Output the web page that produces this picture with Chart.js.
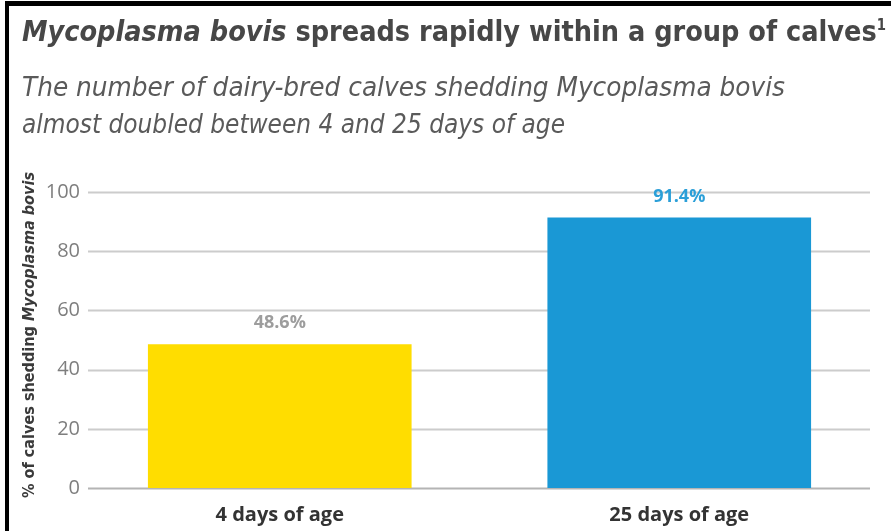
<!DOCTYPE html>
<html>
<head>
    <meta charset="utf-8" />
    <title>Mycoplasma bovis spreads rapidly within a group of calves</title>
    <script src="https://cdn.jsdelivr.net/npm/chart.js"></script>
    <style>
        body { margin: 0; background: #fff; width: 891px; height: 531px; overflow: hidden; position: relative; }
        #frame { position: absolute; left: 5px; top: 1px; width: 900px; height: 540px;
                 border-left: 4px solid #000; border-top: 5px solid #000; }
        .txt { position: absolute; left: 22px; white-space: nowrap; transform-origin: 0 0;
               font-family: "Liberation Sans Narrow", "DejaVu Sans Condensed", "Liberation Sans", sans-serif; }
        #title { top: 14px; font-size: 29px; font-weight: bold; color: #474747; }
        #title sup { font-size: 15px; }
        .sub { font-size: 26px; font-style: italic; color: #5a5a5a; }
        #sub1 { top: 72px; }
        #sub2 { top: 109px; }
        #wrap { position: absolute; left: 0; top: 0; width: 891px; height: 531px; }
    </style>
</head>
<body>
    <div id="wrap"><canvas id="barChart" width="891" height="531"></canvas></div>
    <div id="frame"></div>
    <div id="title" class="txt" data-w="864"><i>Mycoplasma bovis</i> spreads rapidly within a group of calves<sup>1</sup></div>
    <div id="sub1" class="txt sub" data-w="763">The number of dairy-bred calves shedding Mycoplasma bovis</div>
    <div id="sub2" class="txt sub" data-w="543">almost doubled between 4 and 25 days of age</div>

    <script>
        const categories = ['4 days of age', '25 days of age'];
        const shedding = [48.6, 91.4];
        const yTicks = [0, 20, 40, 60, 80, 100];
        const barColors = ['#FFDD00', '#1A98D5'];
        const labelColors = ['#9d9d9d', '#2b9fd8'];

        // squeeze the heading lines to the widths in the picture
        document.querySelectorAll('.txt').forEach(function (el) {
            const w = el.getBoundingClientRect().width;
            el.style.transform = 'scaleX(' + (Number(el.dataset.w) / w) + ')';
        });

        // horizontal grid lines, a bit shorter than the chart area
        const gridPlugin = {
            id: 'shortGrid',
            beforeDatasetsDraw(chart) {
                const ctx = chart.ctx;
                const y = chart.scales.y;
                ctx.save();
                y.ticks.forEach(function (t) {
                    const py = Math.round(y.getPixelForValue(t.value)) + 0.5;
                    ctx.strokeStyle = t.value === 0 ? '#b4b4b4' : '#cccccc';
                    ctx.lineWidth = 2;
                    ctx.beginPath();
                    ctx.moveTo(88, py);
                    ctx.lineTo(870, py);
                    ctx.stroke();
                });
                ctx.restore();
            }
        };

        // value labels over the bars and the rotated y title
        const labelPlugin = {
            id: 'barLabels',
            afterDatasetsDraw(chart) {
                const ctx = chart.ctx;
                const meta = chart.getDatasetMeta(0);
                ctx.save();
                ctx.font = 'bold 18px "Open Sans", sans-serif';
                ctx.textAlign = 'center';
                ctx.textBaseline = 'middle';
                meta.data.forEach(function (bar, i) {
                    ctx.fillStyle = labelColors[i];
                    ctx.fillText(shedding[i].toFixed(1) + '%', bar.x, bar.y - 21);
                });

                const part1 = '% of calves shedding ';
                const part2 = 'Mycoplasma bovis';
                const f1 = 'bold 15px "Liberation Sans Narrow", "DejaVu Sans Condensed", sans-serif';
                const f2 = 'italic bold 15px "Liberation Sans Narrow", "DejaVu Sans Condensed", sans-serif';
                ctx.font = f1;
                const w1 = ctx.measureText(part1).width;
                ctx.font = f2;
                const w2 = ctx.measureText(part2).width;
                const scale = 326 / (w1 + w2);
                ctx.translate(30, 335);
                ctx.rotate(-Math.PI / 2);
                ctx.scale(scale, 1);
                ctx.fillStyle = '#3a3a3a';
                ctx.textAlign = 'left';
                const start = -(w1 + w2) / 2;
                ctx.font = f1;
                ctx.fillText(part1, start, 0);
                ctx.font = f2;
                ctx.fillText(part2, start + w1, 0);
                ctx.restore();
            }
        };

        new Chart(document.getElementById('barChart'), {
            type: 'bar',
            data: {
                labels: categories,
                datasets: [{
                    data: shedding,
                    backgroundColor: barColors,
                    categoryPercentage: 1,
                    barPercentage: 0.66
                }]
            },
            options: {
                responsive: false,
                animation: false,
                layout: { padding: { top: 192, right: 12, left: 0, bottom: 0 } },
                plugins: { legend: { display: false }, tooltip: { enabled: false } },
                scales: {
                    x: {
                        grid: { display: false, drawTicks: false },
                        border: { display: false },
                        ticks: {
                            padding: 15,
                            color: '#333',
                            font: { family: '"Open Sans", sans-serif', size: 20, weight: 'bold' }
                        },
                        afterFit(scale) { scale.height = 43; }
                    },
                    y: {
                        min: 0,
                        max: 100,
                        afterBuildTicks(scale) { scale.ticks = yTicks.map(v => ({ value: v })); },
                        grid: { display: false, drawTicks: false },
                        border: { display: false },
                        ticks: {
                            padding: 0,
                            color: '#7e7e7e',
                            font: { family: '"Open Sans", sans-serif', size: 20 }
                        },
                        afterFit(scale) { scale.width = 80; }
                    }
                }
            },
            plugins: [gridPlugin, labelPlugin]
        });
    </script>
</body>
</html>
